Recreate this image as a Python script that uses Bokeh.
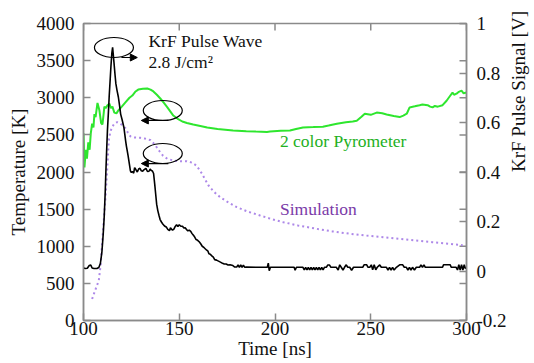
import numpy as np
from bokeh.plotting import figure
from bokeh.models import Range1d, LinearAxis, FixedTicker, Arrow, NormalHead
from bokeh.core.properties import value
from bokeh.embed import file_html
from bokeh.resources import INLINE

# ---------------- data ----------------
pyro_time = [100, 100.5, 101.2, 101.8, 102.5, 103.2, 103.8, 104.5, 105.2, 105.7, 106.3, 107.3,
             108.3, 109.2, 109.9, 110.5, 110.9, 111.6, 112.5, 113.5, 114.3, 115.1, 116.1, 117.2,
             118.2, 120, 122, 124, 125.5, 127, 128.6, 131, 133.3, 135, 136.5, 138.3, 140.1, 142,
             143.8, 145.5, 146.9, 149, 151.6, 154, 157.3, 161, 164.6, 170, 178.1, 185, 190, 195.8,
             197.4, 203, 207.8, 211, 214.6, 220, 225, 228, 232.3, 237, 240.6, 242.7, 245, 246.9,
             250, 253.1, 256, 258.3, 262, 265.1, 267, 268.8, 270.3, 273, 275.5, 277, 279.7, 281,
             282.3, 283.5, 285, 287.5, 289.6, 291, 292.7, 293.5, 294.8, 296, 297.4, 298.5, 300]
pyro_temp = [2520, 2060, 2300, 2180, 2400, 2300, 2520, 2650, 2600, 2780, 2740, 2930,
             2830, 2660, 2640, 2780, 2880, 2860, 2900, 2920, 2860, 2880, 2800, 2790,
             2830, 2880, 2940, 3000, 3030, 3080, 3110, 3120, 3125, 3110, 3085, 3040, 2990, 2930,
             2870, 2810, 2760, 2720, 2680, 2660, 2640, 2620, 2600, 2580, 2560, 2550, 2545, 2540,
             2545, 2555, 2560, 2580, 2600, 2605, 2610, 2625, 2650, 2670, 2680, 2690, 2740, 2785,
             2770, 2800, 2790, 2775, 2755, 2740, 2760, 2785, 2870, 2885, 2900, 2910, 2900, 2880,
             2870, 2890, 2880, 2900, 2960, 3010, 3070, 3040, 3055, 3080, 3095, 3060, 3070]

sim_time = [104.5, 106, 108.0, 109.0, 109.7, 110.6, 111.5, 112.4, 113.2, 114.0, 114.9, 116.2,
            117.6, 119.0, 120.3, 121.9, 123.2, 124.5, 126, 129.7, 132, 134.9, 136.5, 137.5,
            139.1, 140.5, 141.5, 143.8, 147, 150.5, 154, 156.8, 158.2, 159.2, 160.5, 161.8,
            163.5, 165.3, 168, 171.4, 175, 180.1, 186, 192.2, 198, 204.3, 212, 221.7, 230,
            239.1, 247, 256.4, 265, 273.8, 282, 291.1, 298]
sim_temp = [290, 400, 540, 760, 1030, 1350, 1660, 2050, 2424, 2540, 2604, 2655,
            2671, 2655, 2630, 2590, 2530, 2480, 2465, 2460, 2450, 2430, 2390, 2360,
            2300, 2250, 2220, 2177, 2155, 2145, 2145, 2125, 2100, 2080, 2030, 1980,
            1900, 1818, 1735, 1661, 1600, 1526, 1465, 1414, 1368, 1324, 1280, 1235, 1200,
            1168, 1145, 1122, 1100, 1077, 1055, 1033, 1015]

pulse_time = [100, 101, 102, 103, 103.8, 104.5, 105.5, 107, 108, 108.8, 109.6, 110.3, 110.8,
              111.3, 111.7, 112.1, 112.5, 113.0, 113.4, 113.9, 114.3, 114.8, 115.2, 115.6, 116.0,
              116.5, 116.9, 117.5, 118.2, 118.8, 119.4, 120.2, 121.1, 121.6, 122.0, 122.4, 122.8,
              123.3, 123.7, 124.1, 124.5, 125.0, 125.6, 126.2, 126.7, 127.3, 128.1, 128.8, 129.5,
              130.2, 130.9, 131.7, 132.6, 133.4, 134.2, 134.8, 135.4, 136.0, 136.6, 137.2, 137.7,
              138.2, 138.8, 139.4, 140.0, 140.7, 141.4, 142.3, 143.2, 144.0, 144.9, 145.4, 145.8,
              146.5, 147.2, 147.9, 148.6, 149.3, 150.0, 150.8, 151.7, 152.4, 153.1, 153.8, 154.5,
              155.2, 156.0, 156.6, 157.3, 158.0, 158.8, 159.6, 160.4, 161.2, 162.0, 163.0, 164.2,
              165.0, 165.5, 166.2, 167.0, 167.8, 168.5, 169.5, 170.5, 171.5, 172.6, 173.5, 174.5,
              175.5, 176.5, 178.0, 179.0, 180.0, 180.7, 181.4, 182.1, 182.8, 183.5, 184.2, 185,
              190, 196, 196.5, 197.0, 197.6, 210, 210.5, 211.2, 214.6, 215.3, 216.0, 216.7, 217.4,
              218.1, 218.8, 219.5, 220.2, 220.9, 221.6, 222.3, 223.0, 223.7, 224.4, 225.1, 225.8,
              226.8, 227.5, 228.5, 229.2, 232.0, 233.0, 233.8, 234.6, 235.5, 236.3, 237.2, 238.0,
              239.0, 240.0, 241.0, 245.8, 246.5, 247.9, 248.6, 249.5, 250.3, 251.0, 251.8, 252.6,
              253.4, 254.7, 255.5, 258.2, 259.0, 259.8, 260.6, 261.4, 262.2, 263.4, 265.1, 266.7,
              267.5, 268.6, 269.4, 270.2, 271.0, 271.8, 272.8, 273.8, 275.5, 276.2, 277.0, 277.8,
              278.5, 279.0, 287.5, 288.0, 291.5, 292.0, 294.6, 295.3, 296.0, 296.7, 297.4, 298.1,
              298.8, 299.4, 300]
pulse_volt = [0.012, 0.010, 0.011, 0.022, 0.024, 0.012, 0.010, 0.010, 0.014, 0.030, 0.076, 0.150, 0.217,
              0.310, 0.406, 0.490, 0.568, 0.640, 0.703, 0.770, 0.823, 0.880, 0.904, 0.870, 0.835,
              0.790, 0.757, 0.730, 0.703, 0.670, 0.634, 0.610, 0.580, 0.550, 0.526, 0.505, 0.487,
              0.465, 0.445, 0.425, 0.405, 0.398, 0.402, 0.395, 0.418, 0.410, 0.400, 0.412, 0.415,
              0.405, 0.403, 0.410, 0.415, 0.402, 0.403, 0.412, 0.406, 0.404, 0.394, 0.350, 0.310,
              0.270, 0.244, 0.225, 0.208, 0.198, 0.190, 0.182, 0.178, 0.168, 0.163, 0.175, 0.170,
              0.165, 0.169, 0.180, 0.187, 0.180, 0.187, 0.181, 0.181, 0.174, 0.175, 0.168, 0.162,
              0.165, 0.160, 0.152, 0.145, 0.138, 0.127, 0.124, 0.118, 0.110, 0.100, 0.094, 0.085,
              0.080, 0.070, 0.068, 0.061, 0.056, 0.046, 0.044, 0.040, 0.036, 0.031, 0.028, 0.028,
              0.024, 0.025, 0.022, 0.016, 0.016, 0.025, 0.015, 0.025, 0.015, 0.024, 0.015, 0.016,
              0.015, 0.015, 0.032, 0.001, 0.015, 0.015, 0.003, 0.015, 0.015, 0.004, 0.015, 0.004, 0.015,
              0.004, 0.015, 0.004, 0.015, 0.004, 0.015, 0.004, 0.015, 0.004, 0.015, 0.004, 0.015,
              0.015, 0.024, 0.024, 0.015, 0.015, 0.004, 0.025, 0.015, 0.004, 0.015, 0.025, 0.015,
              0.015, 0.003, 0.015, 0.015, 0.025, 0.025, 0.015, 0.015, 0.025, 0.005, 0.025, 0.005,
              0.015, 0.025, 0.015, 0.015, 0.004, 0.015, 0.004, 0.015, 0.004, 0.015, 0.025, 0.025,
              0.015, 0.015, 0.004, 0.015, 0.004, 0.015, 0.004, 0.015, 0.015, 0.025, 0.015, 0.025,
              0.015, 0.015, 0.015, 0.025, 0.025, 0.015, 0.015, 0.004, 0.025, 0.004, 0.025, 0.004,
              0.025, 0.010, 0.015]

time_ticks = [100, 150, 200, 250, 300]
temp_ticks = [0, 500, 1000, 1500, 2000, 2500, 3000, 3500, 4000]
volt_ticks = [-0.2, 0, 0.2, 0.4, 0.6, 0.8, 1]
volt_labels = ["-0.2", "0", "0.2", "0.4", "0.6", "0.8", "1"]

# annotations (data coordinates)
note_x = [133.9, 133.9, 202.6, 202.6]
note_y = [3758, 3488, 2411, 1508]
note_text = ["KrF Pulse Wave", "2.8 J/cm\u00b2", "2 color Pyrometer", "Simulation"]
note_color = ["#111111", "#111111", "#22b022", "#7a3aa8"]

ellipse_x = [115.9, 141.4, 141.4]
ellipse_y = [3677, 2828, 2249]

arrow_x0 = [119.8, 144.3, 144.3]
arrow_x1 = [128.1, 130.2, 130.2]
arrow_y = [3542, 2694, 2114]

# ---------------- figure ----------------
FONT = "Liberation Serif"
AX = "#8a8a8a"

p = figure(frame_width=383, frame_height=297,
           x_range=Range1d(100, 300), y_range=Range1d(0, 4000),
           output_backend="svg", toolbar_location=None,
           min_border_left=83, min_border_right=68, min_border_top=23, min_border_bottom=40,
           background_fill_color="white", border_fill_color="white",
           outline_line_color=AX, outline_line_width=1.5)
p.extra_y_ranges = {"volt": Range1d(-0.2, 1)}
p.xgrid.grid_line_color = None
p.ygrid.grid_line_color = None


def style(ax, size="19px"):
    ax.axis_line_color = AX
    ax.axis_line_width = 1.5
    ax.major_tick_line_color = AX
    ax.major_tick_line_width = 1.5
    ax.major_tick_in = 7
    ax.major_tick_out = 0
    ax.minor_tick_line_color = None
    ax.major_label_text_font = FONT
    ax.major_label_text_font_size = size
    ax.major_label_text_color = "#111111"
    ax.axis_label_text_font = FONT
    ax.axis_label_text_font_size = "19px"
    ax.axis_label_text_font_style = "normal"
    ax.axis_label_text_color = "#111111"


xa = p.xaxis[0]
style(xa)
xa.ticker = FixedTicker(ticks=time_ticks)
xa.axis_label = "Time [ns]"
xa.major_label_standoff = 1
xa.axis_label_standoff = 0

ya = p.yaxis[0]
style(ya)
ya.ticker = FixedTicker(ticks=temp_ticks)
ya.axis_label = "Temperature [K]"
ya.major_label_standoff = 9
ya.axis_label_standoff = 5

ra = LinearAxis(y_range_name="volt", ticker=FixedTicker(ticks=volt_ticks),
                major_label_overrides=dict(zip(volt_ticks, volt_labels)),
                axis_label="KrF Pulse Signal [V]")
style(ra)
ra.major_label_standoff = 10
ra.axis_label_standoff = 9
ra.axis_label_orientation = np.pi / 2
p.add_layout(ra, "right")

# mirrored ticks: temperature ticks on the right edge, time ticks on the top edge
p.ray(x=[300] * len(temp_ticks), y=temp_ticks, length=7, length_units="screen",
      angle=np.pi, line_color=AX, line_width=1.5)
p.ray(x=time_ticks, y=[4000] * len(time_ticks), length=7, length_units="screen",
      angle=-np.pi / 2, line_color=AX, line_width=1.5)

# curves
p.line(pyro_time, pyro_temp, line_color="#2ee62e", line_width=2)
p.line(sim_time, sim_temp, line_color="#ad88e8", line_width=2, line_dash="2 3")
p.line(pulse_time, pulse_volt, y_range_name="volt", line_color="black", line_width=1.6)

# annotations
p.text(x=note_x, y=note_y, text=note_text, text_color=note_color,
       text_font=value(FONT), text_font_size="17.5px",
       text_baseline="middle", text_align="left")
p.ellipse(x=ellipse_x, y=ellipse_y, width=39, height=20,
          width_units="screen", height_units="screen",
          fill_color=None, line_color="black", line_width=1.2)
for x0, x1, y in zip(arrow_x0, arrow_x1, arrow_y):
    p.add_layout(Arrow(end=NormalHead(size=7, fill_color="black", line_color="black"),
                       x_start=x0, y_start=y, x_end=x1, y_end=y,
                       line_color="black", line_width=1.2))

open("out.html", "w").write(file_html(p, INLINE))
